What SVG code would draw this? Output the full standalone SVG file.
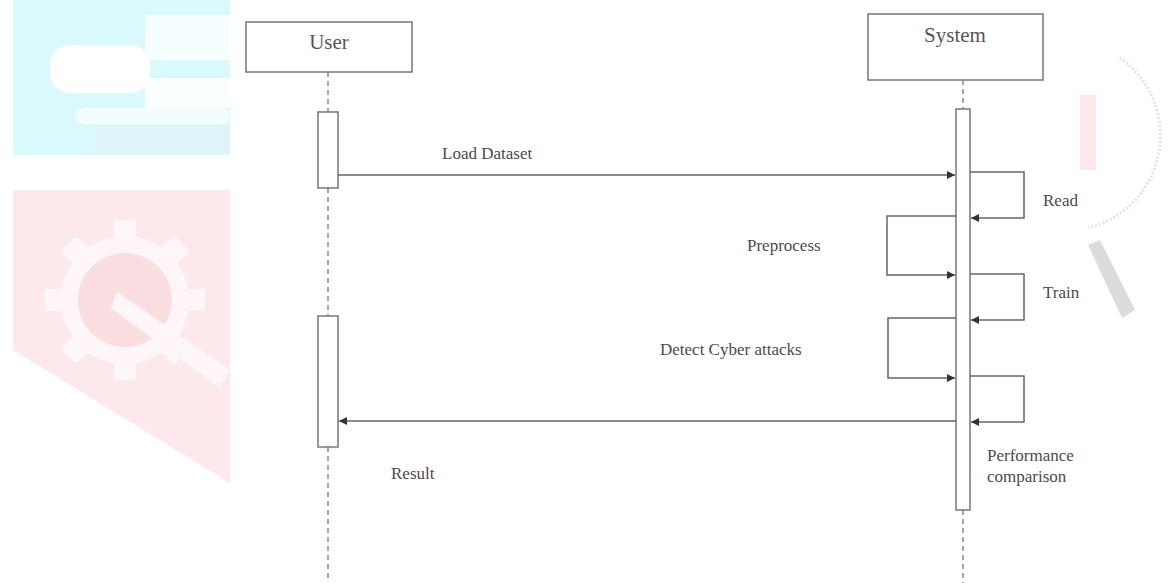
<svg xmlns="http://www.w3.org/2000/svg" width="1173" height="583" viewBox="0 0 1173 583">
<style>
.box{fill:#fff;stroke:#777;stroke-width:1.5}
.act{fill:#fff;stroke:#777;stroke-width:1.5}
.life{stroke:#888;stroke-width:1.5;stroke-dasharray:5,4;fill:none}
.msg{stroke:#666;stroke-width:1.5;fill:none}
.lbl{font-family:"Liberation Serif",serif;font-size:17px;fill:#4a4a4a}
.ttl{font-family:"Liberation Serif",serif;font-size:21px;fill:#555;text-anchor:middle}
</style>
<defs>
<marker id="ah" viewBox="0 0 10 10" refX="10" refY="5" markerWidth="8" markerHeight="8" markerUnits="userSpaceOnUse" orient="auto">
<path d="M0,0 L10,5 L0,10 z" fill="#333"/>
</marker>
</defs>
<rect width="1173" height="583" fill="#fff"/>
<g id="watermark" opacity="0.85">
<rect x="13" y="0" width="217" height="155" fill="#d2f8fc"/>
<rect x="50" y="45" width="100" height="48" rx="20" fill="#fff"/>
<rect x="145" y="15" width="85" height="45" fill="#f6feff"/>
<rect x="145" y="78" width="85" height="30" fill="#fbfeff"/>
<rect x="75" y="108" width="155" height="16" rx="8" fill="#f2fcfd"/>
<rect x="95" y="125" width="135" height="30" fill="#d8f3f8"/>
<path d="M13,190 L230,190 L230,483 L13,350 z" fill="#fde5e8"/>
<g transform="translate(125,300)" fill="#fff6f6">
<circle r="64"/>
<rect x="-11" y="-80" width="22" height="22"/>
<rect x="-11" y="58" width="22" height="22"/>
<rect x="-80" y="-11" width="22" height="22"/>
<rect x="58" y="-11" width="22" height="22"/>
<rect x="-11" y="-80" width="22" height="22" transform="rotate(45)"/>
<rect x="-11" y="-80" width="22" height="22" transform="rotate(-45)"/>
<rect x="-11" y="58" width="22" height="22" transform="rotate(45)"/>
<rect x="-11" y="58" width="22" height="22" transform="rotate(-45)"/>
<circle r="47" fill="#fbd8dc"/>
<path d="M-8,-8 L105,70 L95,88 L-14,8 z"/>
</g>
<path d="M1120,58 A95,95 0 0 1 1088,228" fill="none" stroke="#ddd" stroke-width="3" stroke-dasharray="2,2"/>
<rect x="1080" y="95" width="16" height="75" fill="#fde3e6"/>
<path d="M1088,245 L1100,240 L1135,310 L1122,318 z" fill="#d6d6d6"/>
</g>
<g id="user">
<rect class="box" x="246" y="22" width="166" height="50"/>
<text class="ttl" x="329" y="49">User</text>
<line class="life" x1="328" y1="72" x2="328" y2="112"/>
<line class="life" x1="328" y1="188" x2="328" y2="316"/>
<line class="life" x1="328" y1="447" x2="328" y2="580"/>
<rect class="act" x="318" y="112" width="20" height="76"/>
<rect class="act" x="318" y="316" width="20" height="131"/>
</g>
<g id="system">
<rect class="box" x="868" y="14" width="175" height="66"/>
<text class="ttl" x="955" y="42">System</text>
<line class="life" x1="963" y1="80" x2="963" y2="109"/>
<line class="life" x1="963" y1="510" x2="963" y2="583"/>
<rect class="act" x="956" y="109" width="14" height="401"/>
</g>
<g id="connectors">
<line class="msg" x1="338" y1="175" x2="955" y2="175" marker-end="url(#ah)"/>
<polyline class="msg" points="970,172 1024,172 1024,218 971,218" marker-end="url(#ah)"/>
<polyline class="msg" points="956,216 887,216 887,275 955,275" marker-end="url(#ah)"/>
<polyline class="msg" points="970,274 1024,274 1024,320 971,320" marker-end="url(#ah)"/>
<polyline class="msg" points="956,318 888,318 888,378 955,378" marker-end="url(#ah)"/>
<polyline class="msg" points="970,376 1024,376 1024,422 971,422" marker-end="url(#ah)"/>
<line class="msg" x1="956" y1="421" x2="339" y2="421" marker-end="url(#ah)"/>
</g>
<g id="labels">
<text class="lbl" x="442" y="159">Load Dataset</text>
<text class="lbl" x="1043" y="206">Read</text>
<text class="lbl" x="747" y="251">Preprocess</text>
<text class="lbl" x="1043" y="298">Train</text>
<text class="lbl" x="660" y="355">Detect Cyber attacks</text>
<text class="lbl" x="391" y="479">Result</text>
<text class="lbl" x="987" y="461">Performance</text>
<text class="lbl" x="987" y="482">comparison</text>
</g>
</svg>
